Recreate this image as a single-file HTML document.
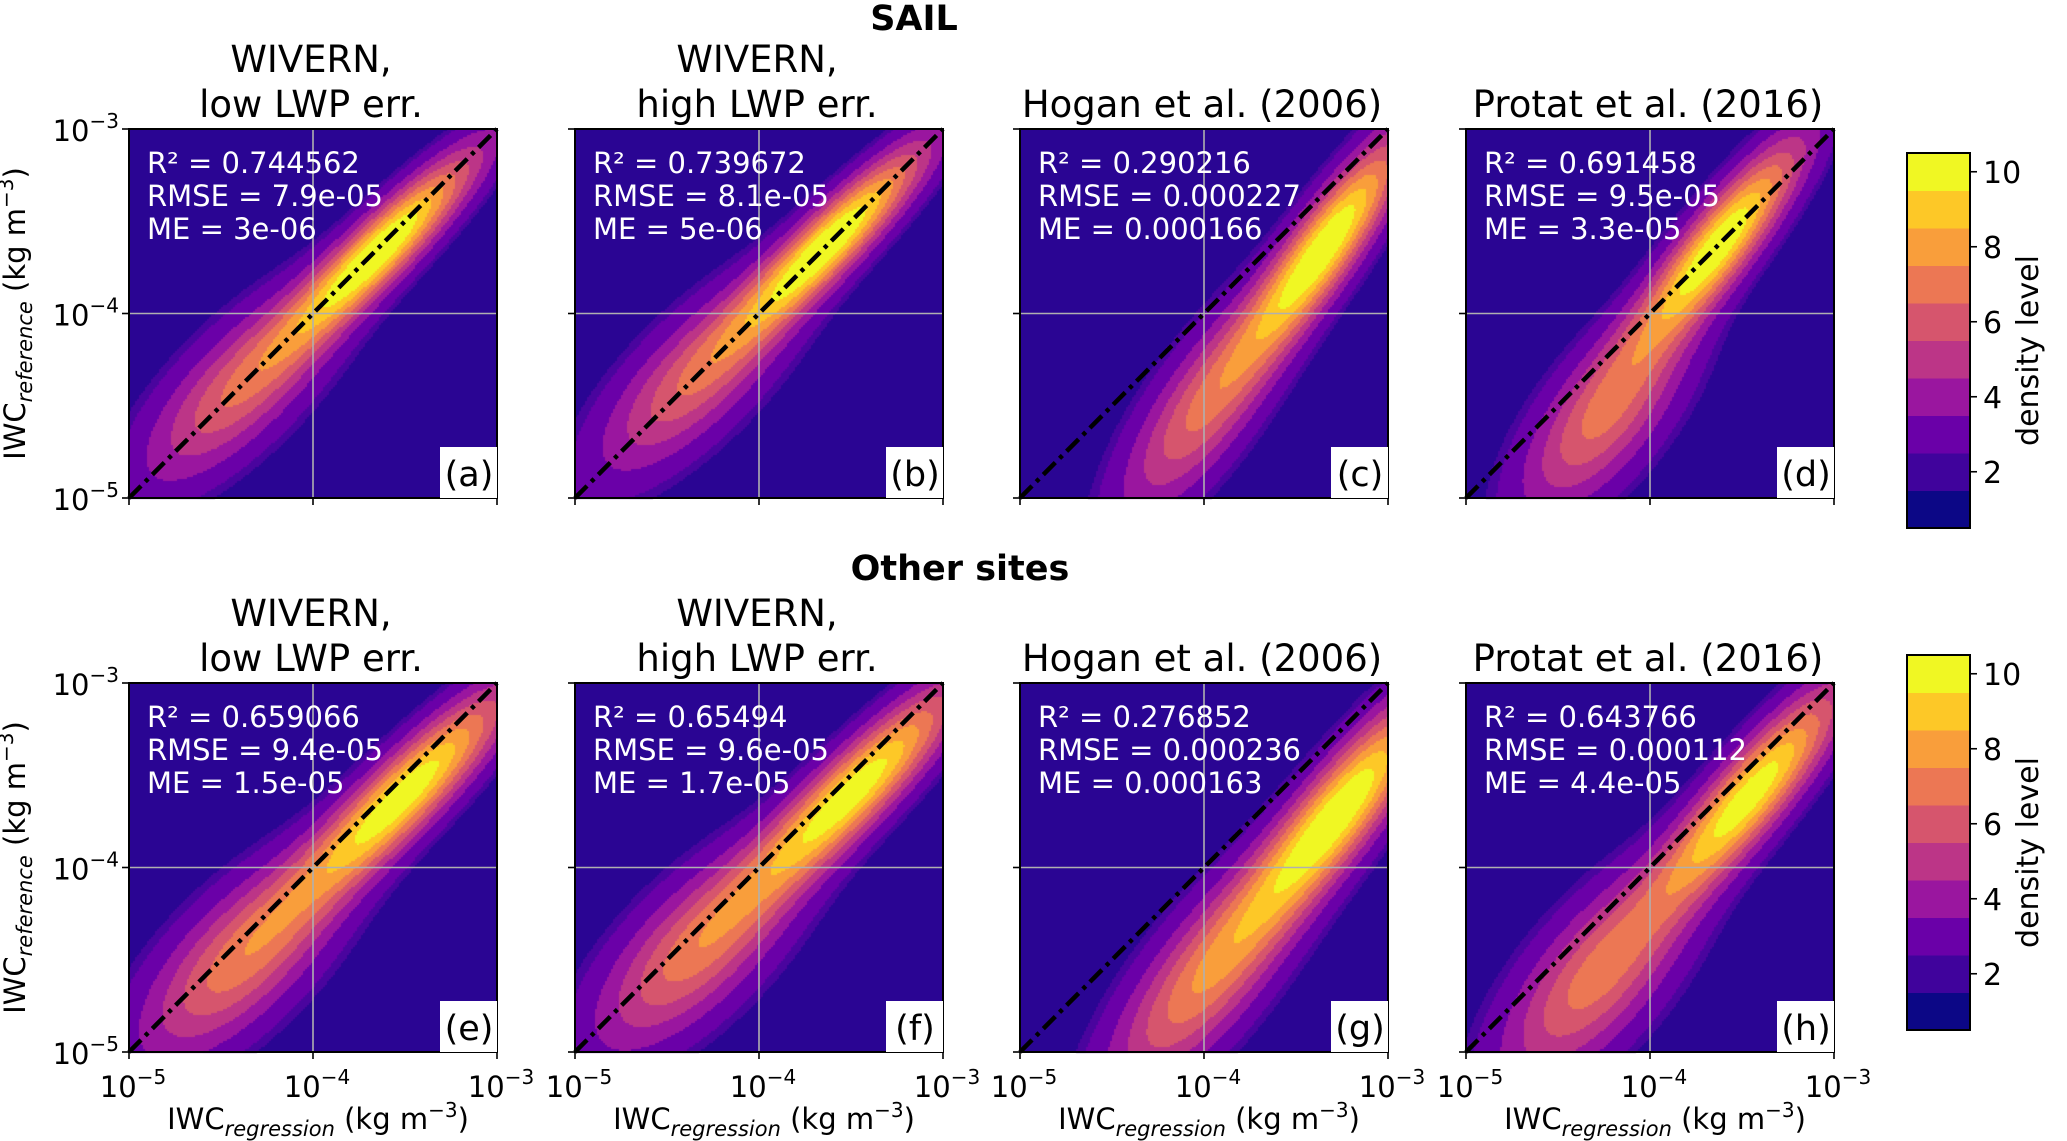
<!DOCTYPE html>
<html><head><meta charset="utf-8"><style>
html,body{margin:0;padding:0;background:#fff;}
#wrap{position:relative;width:2067px;height:1141px;overflow:hidden;}
canvas,svg{position:absolute;left:0;top:0;}
text{font-family:"DejaVu Sans","Liberation Sans",sans-serif;}
</style></head><body>
<div id="wrap">
<canvas id="cv" width="2067" height="1141"></canvas>
<svg id="sv" width="2067" height="1141" viewBox="0 0 2067 1141"></svg>
</div>
<script>
// ---- data ----
const panelLetters = ["a","b","c","d","e","f","g","h"];
const titles1 = ["WIVERN,","WIVERN,","","","WIVERN,","WIVERN,","",""];
const titles2 = ["low LWP err.","high LWP err.","Hogan et al. (2006)","Protat et al. (2016)","low LWP err.","high LWP err.","Hogan et al. (2006)","Protat et al. (2016)"];
const r2Vals = ["0.744562","0.739672","0.290216","0.691458","0.659066","0.65494","0.276852","0.643766"];
const rmseVals = ["7.9e-05","8.1e-05","0.000227","9.5e-05","9.4e-05","9.6e-05","0.000236","0.000112"];
const meVals = ["3e-06","5e-06","0.000166","3.3e-05","1.5e-05","1.7e-05","0.000163","4.4e-05"];
// density model (log10 units): main peak + tail component
const peakX = [-3.62,-3.6,-3.33,-3.62,-3.5,-3.48,-3.25,-3.45];
const peakY = [-3.64,-3.6,-3.62,-3.62,-3.6,-3.58,-3.68,-3.6];
const peakAmp = [8.9,8.8,8.8,8.9,8.7,8.6,8.7,8.6];
const peakSu = [0.5,0.5,0.5,0.48,0.55,0.55,0.55,0.52];
const peakSv = [0.11,0.11,0.12,0.12,0.13,0.13,0.14,0.13];
const tailX = [-4.4,-4.35,-4.0,-4.25,-4.4,-4.35,-4.0,-4.3];
const tailY = [-4.4,-4.35,-4.5,-4.55,-4.5,-4.45,-4.6,-4.6];
const tailAmp = [4.6,4.5,4.8,5.0,5.2,5.1,5.4,5.2];
const tailSu = [0.5,0.5,0.5,0.45,0.5,0.5,0.55,0.5];
const tailSv = [0.19,0.19,0.17,0.19,0.21,0.21,0.19,0.21];
const angleDeg = [45,45,55,52,45,45,52,50];
const xTicks = [-5,-4,-3];
const xTickLabels = ["10","10","10"];
const xTickExp = ["−5","−4","−3"];
const cbTicks = [2,4,6,8,10];
const cbLevels = [1,2,3,4,5,6,7,8,9,10];
const levelColors = ["#0c0786","#40039c","#6a00a8","#9a169f","#bc3587","#d6556d","#ec7754","#f99e3b","#fdc827","#f0f723"];
const bgColor = "#2a0593";

// ---- layout ----
const colX = [129,575,1020,1466];
const rowY = [129,683];
const PW = 368, PH = 369;
const cbX = 1907, cbW = 63, cbTop = [153,655], cbH = 375;
const NS = "http://www.w3.org/2000/svg";
const svg = document.getElementById('sv');
function el(tag, attrs, parent){
  const e=document.createElementNS(NS,tag);
  for(const k in attrs) e.setAttribute(k,attrs[k]);
  (parent||svg).appendChild(e); return e;
}
function txt(s, x, y, size, anchor, parent, extra){
  const t=el('text',Object.assign({x:x,y:y,'font-size':size,'text-anchor':anchor||'start'},extra||{}),parent);
  t.textContent=s; return t;
}
const ctx = document.getElementById('cv').getContext('2d');

for(let p=0;p<8;p++){
  const r=Math.floor(p/4), c=p%4;
  const x0=colX[c], y0=rowY[r];
  const sx=v=>x0+(v+5)/2*PW;
  const sy=v=>y0+PH-(v+5)/2*PH;
  const g=el('g',{});
  
  
  ctx.fillStyle=bgColor; ctx.fillRect(x0,y0,PW,PH);
  const a=angleDeg[p]*Math.PI/180, ca=Math.cos(a), sa=Math.sin(a);
  const step=2;
  for(let py=0;py<PH;py+=step){
    for(let px=0;px<PW;px+=step){
      const lx=-5+(px+1)/PW*2, ly=-5+(PH-py-1)/PH*2;
      let d=0;
      let dx=lx-peakX[p], dy=ly-peakY[p];
      let u=dx*ca+dy*sa, v=-dx*sa+dy*ca;
      d+=peakAmp[p]*Math.exp(-(u*u/(2*peakSu[p]*peakSu[p])+v*v/(2*peakSv[p]*peakSv[p])));
      dx=lx-tailX[p]; dy=ly-tailY[p];
      u=dx*ca+dy*sa; v=-dx*sa+dy*ca;
      d+=tailAmp[p]*Math.exp(-(u*u/(2*tailSu[p]*tailSu[p])+v*v/(2*tailSv[p]*tailSv[p])));
      d+=1.6;
      const lv=Math.min(10,Math.floor(d+0.5));
      if(lv>=3){ctx.fillStyle=levelColors[lv-1];ctx.fillRect(x0+px,y0+py,step,step);}
      else if(lv>=2 && d>2.2){ctx.fillStyle="#4a049e";ctx.fillRect(x0+px,y0+py,step,step);}
    }
  }
  el('line',{x1:sx(-4),y1:y0,x2:sx(-4),y2:y0+PH,stroke:'#b0b0b0','stroke-width':1.6},g);
  el('line',{x1:x0,y1:sy(-4),x2:x0+PW,y2:sy(-4),stroke:'#b0b0b0','stroke-width':1.6},g);
  const dl=el('line',{x1:sx(-5),y1:sy(-5),x2:sx(-3),y2:sy(-3),stroke:'#000','stroke-width':4.5,'stroke-dasharray':'17 6 4 6'},g);
  
  
  el('rect',{x:x0,y:y0,width:PW,height:PH,fill:'none',stroke:'#000','stroke-width':2},g);
  xTicks.forEach((t,i)=>{
    el('line',{x1:sx(t),y1:y0+PH,x2:sx(t),y2:y0+PH+7,stroke:'#000','stroke-width':1.6},g);
    el('line',{x1:x0,y1:sy(t),x2:x0-7,y2:sy(t),stroke:'#000','stroke-width':1.6},g);
  });
  const st=el('g',{fill:'#fff'},g);
  
  
  txt('R² = '+r2Vals[p], x0+18, y0+44, 29,'start',st);
  txt('RMSE = '+rmseVals[p], x0+18, y0+77, 29,'start',st);
  txt('ME = '+meVals[p], x0+18, y0+110, 29,'start',st);
  const lb=el('g',{},g);
  
  
  el('rect',{x:x0+PW-57,y:y0+PH-51,width:57,height:51,fill:'#fff'},lb);
  txt('('+panelLetters[p]+')', x0+PW-28, y0+PH-12, 35,'middle',lb);
  const tg=el('g',{},g);
  
  
  if(titles1[p]) txt(titles1[p], x0+PW/2-2, y0-57, 37,'middle',tg);
  txt(titles2[p], x0+PW/2-2, y0-12, 37,'middle',tg);
  if(c===0){
    xTicks.forEach((t,i)=>{
      const tt=txt(xTickLabels[i], x0-10, sy(t)+12, 29,'end',g);
      const sp=document.createElementNS(NS,'tspan');
      sp.setAttribute('font-size',20);sp.setAttribute('dy',-13);sp.textContent=xTickExp[i];
      tt.appendChild(sp);
    });
    const yl=el('text',{x:0,y:0,'font-size':29,'text-anchor':'middle',transform:'translate('+(x0-104)+','+(y0+PH/2)+') rotate(-90)'},g);
    
    
    yl.innerHTML='IWC<tspan font-size="21" font-style="italic" dy="7">reference</tspan><tspan dy="-7"> (kg m</tspan><tspan font-size="20" dy="-12">−3</tspan><tspan dy="12">)</tspan>';
  }
  if(r===1){
    xTicks.forEach((t,i)=>{
      const tt=txt(xTickLabels[i], sx(t)+4, y0+PH+45, 29,'middle',g);
      const sp=document.createElementNS(NS,'tspan');
      sp.setAttribute('font-size',20);sp.setAttribute('dy',-13);sp.textContent=xTickExp[i];
      tt.appendChild(sp);
    });
    const xl=el('text',{x:x0+PW/2+5,y:y0+PH+77,'font-size':29,'text-anchor':'middle'},g);
    
    
    xl.innerHTML='IWC<tspan font-size="21" font-style="italic" dy="7">regression</tspan><tspan dy="-7"> (kg m</tspan><tspan font-size="20" dy="-12">−3</tspan><tspan dy="12">)</tspan>';
  }
}
const t1=txt('SAIL',914,30,35,'middle',svg,{'font-weight':'bold'});


const t2=txt('Other sites',960,580,35,'middle',svg,{'font-weight':'bold'});


for(let r=0;r<2;r++){
  const top=cbTop[r];
  const g=el('g',{});
  
  
  const bh=cbH/cbLevels.length;
  const cy=lv=>top+cbH-(lv-0.5)*bh;
  cbLevels.forEach((lv,i)=>{
    const rc=el('rect',{x:cbX,y:cy(lv)-bh/2,width:cbW,height:bh+0.5,fill:levelColors[i]},g);
    
    
  });
  el('rect',{x:cbX,y:top,width:cbW,height:cbH,fill:'none',stroke:'#000','stroke-width':2},g);
  cbTicks.forEach(t=>{
    el('line',{x1:cbX+cbW,y1:cy(t),x2:cbX+cbW+7,y2:cy(t),stroke:'#000','stroke-width':1.6},g);
    txt(String(t),cbX+cbW+13,cy(t)+11,30,'start',g);
  });
  const lab=el('text',{x:0,y:0,'font-size':30,'text-anchor':'middle',transform:'translate(2038,'+(top+cbH/2+10)+') rotate(-90)'},g);
  lab.textContent='density level';
  
  
}
</script>
</body></html>
